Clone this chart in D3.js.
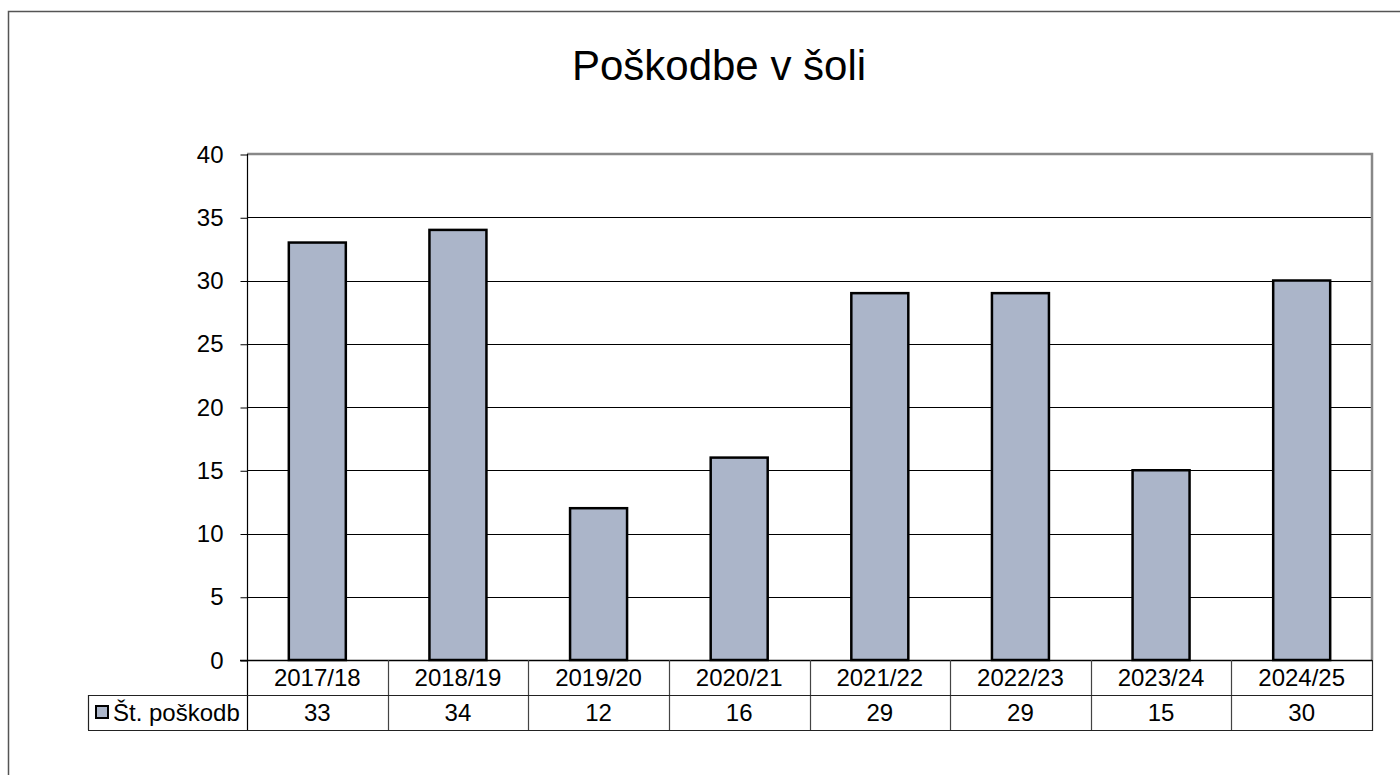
<!DOCTYPE html>
<html>
<head>
<meta charset="utf-8">
<script src="https://cdn.jsdelivr.net/npm/d3@7"></script>
<style>
  body { margin: 0; background: #fff; }
  svg { display: block; font-family: "Liberation Sans", Arial, sans-serif; }
</style>
</head>
<body>
<div id="viz"></div>
<script>
const years = ["2017/18", "2018/19", "2019/20", "2020/21", "2021/22", "2022/23", "2023/24", "2024/25"];
const counts = [33, 34, 12, 16, 29, 29, 15, 30];
const yTicks = [0, 5, 10, 15, 20, 25, 30, 35, 40];
const seriesName = "Št. poškodb";
const chartTitle = "Poškodbe v šoli";

const width = 1400, height = 775;
const plot = {left: 247, right: 1372, top: 154, bottom: 660};
const rowH = 35, legendLeft = 88;
const barFill = "#abb5c9";
const fs = 24;

const svg = d3.select("#viz").append("svg").attr("width", width).attr("height", height);

// outer frame (runs off the right and bottom edges)
svg.append("rect")
  .attr("x", 8.5).attr("y", 11.5).attr("width", 1500).attr("height", 900)
  .attr("fill", "none").attr("stroke", "#555").attr("stroke-width", 1.5);

svg.append("text")
  .attr("x", 719).attr("y", 80)
  .attr("text-anchor", "middle")
  .attr("font-size", 42)
  .text(chartTitle);

const x = d3.scaleBand().domain(years).range([plot.left, plot.right]);
const y = d3.scaleLinear().domain([0, 40]).range([plot.bottom, plot.top]);

// gridlines
svg.append("g").selectAll("line").data(yTicks.filter(d => d > 0 && d < 40)).enter().append("line")
  .attr("x1", plot.left).attr("x2", plot.right)
  .attr("y1", d => Math.round(y(d)) + 0.5).attr("y2", d => Math.round(y(d)) + 0.5)
  .attr("stroke", "#000").attr("stroke-width", 1);

// y axis with ticks
const yAxis = svg.append("g")
  .attr("transform", `translate(${plot.left + 0.5},0.5)`)
  .call(d3.axisLeft(y).tickValues(yTicks).tickSize(7).tickPadding(17));
yAxis.select(".domain").remove();
yAxis.selectAll(".tick line").attr("stroke", "#000");
yAxis.selectAll(".tick text").attr("font-size", fs).attr("fill", "#000")
  .attr("font-family", "Liberation Sans, Arial, sans-serif");

// bars
const barW = 57;
svg.append("g").selectAll("rect").data(counts).enter().append("rect")
  .attr("x", (d, i) => x(years[i]) + (x.bandwidth() - barW) / 2)
  .attr("y", d => y(d))
  .attr("width", barW)
  .attr("height", d => y(0) - y(d))
  .attr("fill", barFill)
  .attr("stroke", "#000")
  .attr("stroke-width", 2.5);

// plot border (gray) top and right
svg.append("path")
  .attr("d", `M${plot.left},${plot.top} H${plot.right} V${plot.bottom}`)
  .attr("fill", "none").attr("stroke", "#888").attr("stroke-width", 2.5);

// left axis line
svg.append("line")
  .attr("x1", plot.left + 0.5).attr("x2", plot.left + 0.5)
  .attr("y1", plot.top).attr("y2", plot.bottom + 2 * rowH)
  .attr("stroke", "#000").attr("stroke-width", 1.2);

// zero line
svg.append("line")
  .attr("x1", plot.left - 7).attr("x2", plot.right)
  .attr("y1", plot.bottom + 0.5).attr("y2", plot.bottom + 0.5)
  .attr("stroke", "#000").attr("stroke-width", 1.5);

// data table
const table = svg.append("g");
const r1 = plot.bottom, r2 = plot.bottom + rowH, r3 = plot.bottom + 2 * rowH;

// column separators
table.selectAll("line.col").data(years.slice(1)).enter().append("line")
  .attr("x1", d => Math.round(x(d)) + 0.5).attr("x2", d => Math.round(x(d)) + 0.5)
  .attr("y1", r1).attr("y2", r3)
  .attr("stroke", "#444").attr("stroke-width", 1.2);

table.append("line").attr("x1", legendLeft).attr("x2", plot.right)
  .attr("y1", r2 + 0.5).attr("y2", r2 + 0.5).attr("stroke", "#222").attr("stroke-width", 1.2);
table.append("line").attr("x1", legendLeft).attr("x2", plot.right)
  .attr("y1", r3 + 0.5).attr("y2", r3 + 0.5).attr("stroke", "#222").attr("stroke-width", 1.2);
table.append("line").attr("x1", legendLeft + 0.5).attr("x2", legendLeft + 0.5)
  .attr("y1", r2).attr("y2", r3).attr("stroke", "#222").attr("stroke-width", 1.2);
table.append("line").attr("x1", plot.right + 0.5).attr("x2", plot.right + 0.5)
  .attr("y1", r1).attr("y2", r3 + 1).attr("stroke", "#222").attr("stroke-width", 1.2);

table.selectAll("text.cat").data(years).enter().append("text")
  .attr("x", d => x(d) + x.bandwidth() / 2)
  .attr("y", r1 + 26)
  .attr("text-anchor", "middle").attr("font-size", fs)
  .text(d => d);

table.selectAll("text.val").data(counts).enter().append("text")
  .attr("x", (d, i) => x(years[i]) + x.bandwidth() / 2)
  .attr("y", r2 + 26)
  .attr("text-anchor", "middle").attr("font-size", fs)
  .text(d => d);

// legend key
table.append("rect")
  .attr("x", 96).attr("y", r2 + 11).attr("width", 12).attr("height", 12)
  .attr("fill", barFill).attr("stroke", "#000").attr("stroke-width", 2);
table.append("text")
  .attr("x", 113).attr("y", r2 + 26)
  .attr("font-size", fs)
  .text(seriesName);
</script>
</body>
</html>
